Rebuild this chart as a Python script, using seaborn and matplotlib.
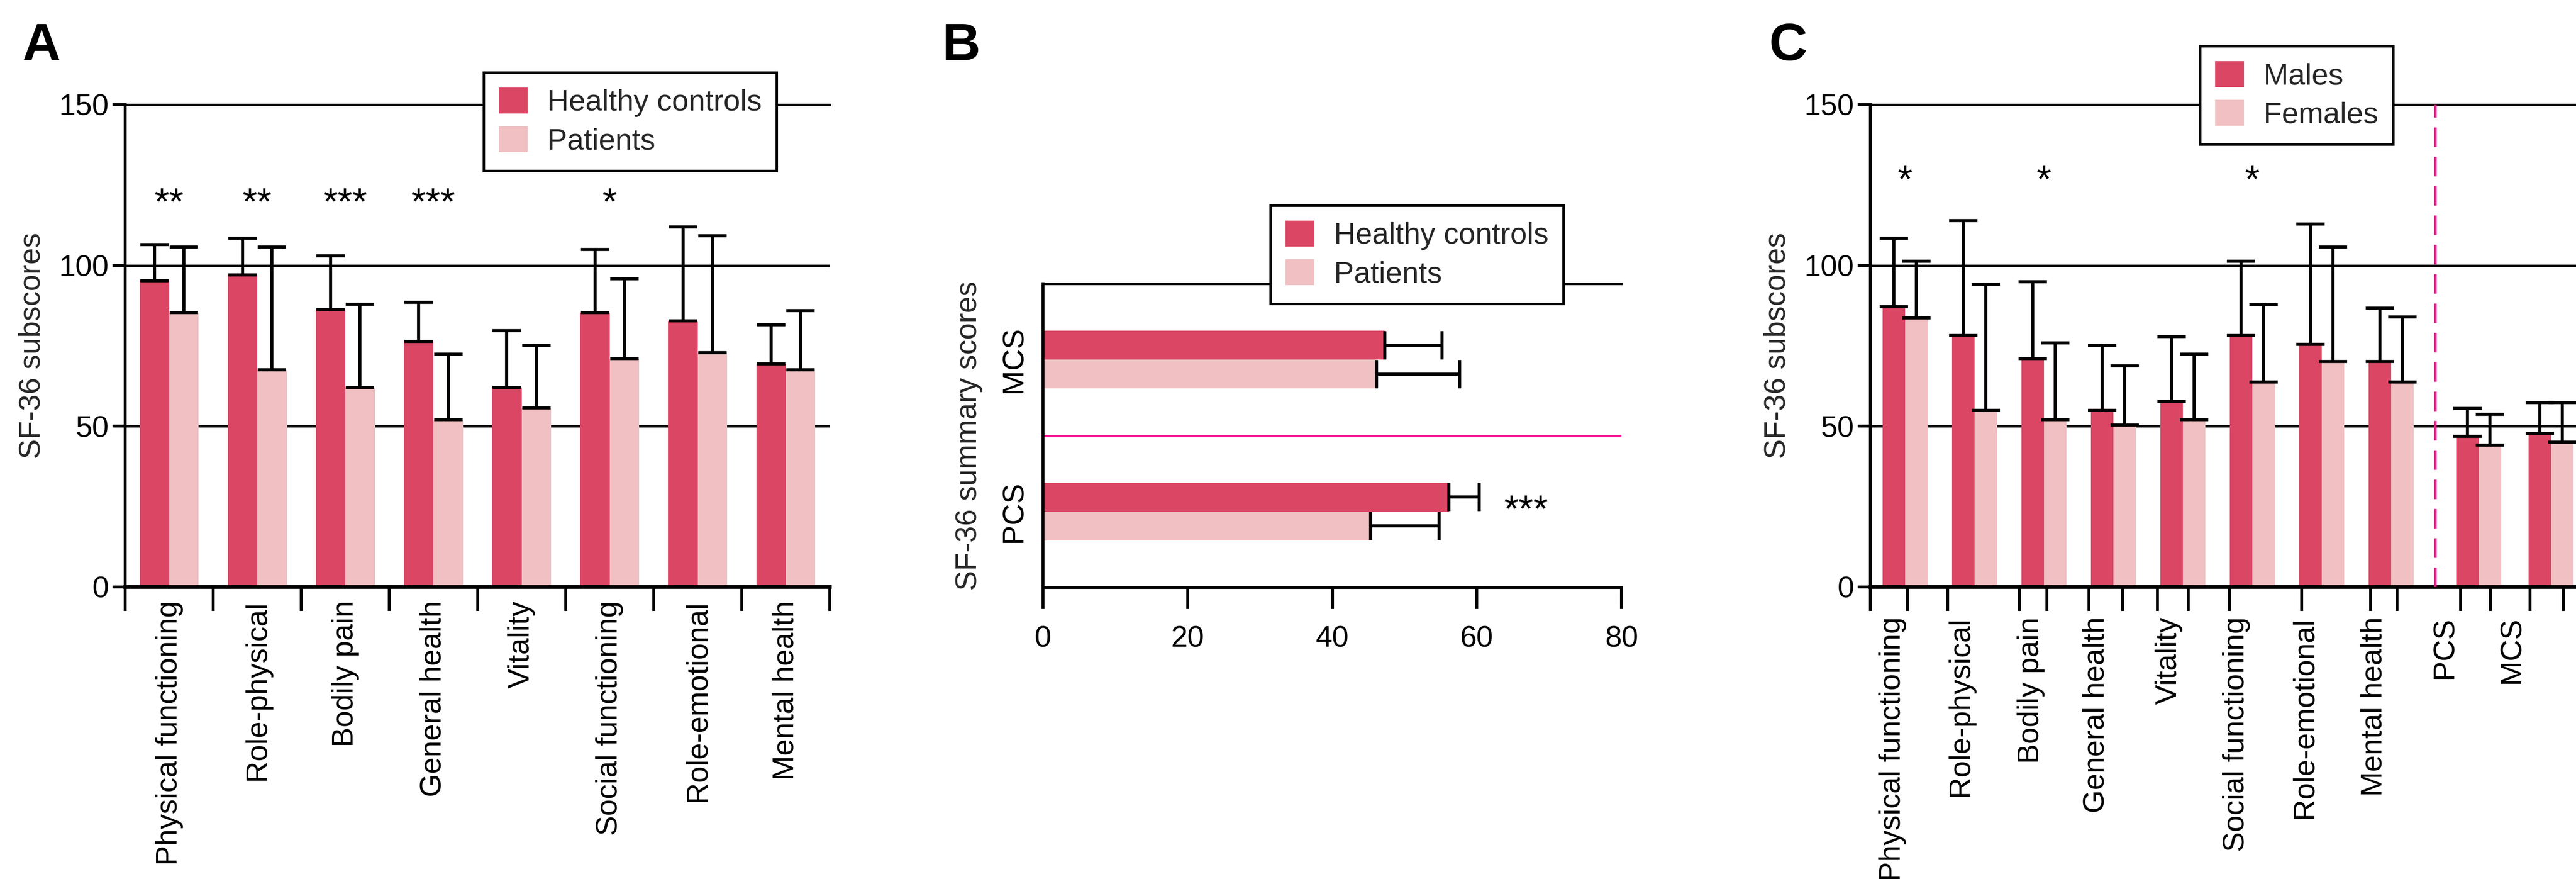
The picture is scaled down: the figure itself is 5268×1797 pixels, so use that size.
import numpy as np
import pandas as pd
import matplotlib
matplotlib.use("Agg")
import matplotlib.pyplot as plt
import seaborn as sns
from matplotlib.patches import Patch

# ---------------- data ----------------
subscales = ["Physical functioning", "Role-physical", "Bodily pain", "General health",
             "Vitality", "Social functioning", "Role-emotional", "Mental health"]
groups_ab = ["Healthy controls", "Patients"]

# Panel A: SF-36 subscores (mean, upper SD)
hc_mean = [95.2, 97.0, 86.2, 76.4, 62.0, 85.4, 82.8, 69.3]
hc_sd = [11.3, 11.5, 16.8, 12.2, 17.7, 19.6, 29.2, 12.3]
pt_mean = [85.4, 67.5, 62.0, 52.1, 55.7, 71.1, 72.8, 67.5]
pt_sd = [20.3, 38.2, 25.9, 20.3, 19.5, 24.7, 36.5, 18.4]
stars_a = ["**", "**", "***", "***", "", "*", "", ""]

# Panel B: summary scores
summary = ["MCS", "PCS"]
hc_sum_mean = [47.3, 56.1]
hc_sum_sd = [7.9, 4.2]
pt_sum_mean = [46.1, 45.3]
pt_sum_sd = [11.5, 9.5]
stars_b = ["", "***"]

# Panel C: males vs females
c_categories = subscales + ["PCS", "MCS"]
sexes = ["Males", "Females"]
male_mean = [87.1, 78.2, 71.1, 54.9, 57.6, 78.2, 75.5, 70.1, 46.8, 47.8]
male_sd = [21.4, 35.7, 23.9, 20.2, 20.3, 23.1, 37.4, 16.6, 8.7, 9.5]
female_mean = [83.6, 54.9, 52.1, 50.4, 52.1, 63.8, 70.1, 63.8, 44.1, 45.0]
female_sd = [17.7, 39.2, 23.8, 18.4, 20.3, 24.0, 35.6, 20.2, 9.6, 12.3]
stars_c = ["*", "", "*", "", "", "*", "", "", "", ""]

# ---------------- layout / style ----------------
c_positions = [0, 1, 2, 3, 4, 5, 6, 7, 8.26, 9.30]
c_label_positions = [-0.18, 0.80, 1.81, 2.75, 3.80, 4.77, 5.75, 6.75, 7.77, 8.74]
c_tick_marks = [-0.5, 0.035, 0.61, 1.65, 2.04, 2.65, 3.13, 3.63, 4.08, 4.67,
                5.71, 6.70, 7.08, 8.0, 8.43, 9.0, 9.48]
c_separator = 7.63

DARK = "#DB4664"
LIGHT = "#F0C0C2"
MAGENTA = "#F5148C"

sns.set_theme(style="white")
plt.rcParams["font.family"] = ["Liberation Sans", "DejaVu Sans"]

FS = 44
TICKFS = 44
STARFS = 56
LW = 4.3
GRIDLW = 3.6
ELW = 4.6
CAP = 21

W, H = 5268, 1797
fig = plt.figure(figsize=(W / 100, H / 100), dpi=100)


def fx(px):
    return px / W


def fy(py):
    return 1 - py / H


axA = fig.add_axes([fx(256), fy(1200), fx(1697) - fx(256), fy(214) - fy(1200)])
axB = fig.add_axes([fx(2133), fy(1201), fx(3316) - fx(2133), fy(580) - fy(1201)])
axC = fig.add_axes([fx(3825), fy(1200), 1 - fx(3825), fy(214) - fy(1200)])


def style_vertical(ax):
    ax.set_ylim(0, 150)
    ax.set_yticks([0, 50, 100, 150])
    ax.yaxis.grid(True, color="black", linewidth=GRIDLW)
    ax.set_axisbelow(True)
    ax.spines["right"].set_visible(False)
    ax.spines["top"].set_visible(True)
    ax.spines["top"].set_linewidth(GRIDLW)
    ax.spines["left"].set_linewidth(LW)
    ax.spines["bottom"].set_linewidth(5.5)
    for s in ax.spines.values():
        s.set_color("black")
    ax.tick_params(axis="y", which="major", direction="out", length=19, width=LW,
                   labelsize=TICKFS, pad=5, left=True, colors="black")
    ax.set_ylabel("SF-36 subscores", fontsize=FS)
    ax.yaxis.set_label_coords(-0.112, 0.5)
    ax.set_xlabel("")


def add_vertical_errorbars(ax, sds_list):
    for cont, sds in zip(ax.containers, sds_list):
        for p, sd in zip(cont, sds):
            x = p.get_x() + p.get_width() / 2
            y = p.get_height()
            ax.errorbar(x, y, yerr=[[0], [sd]], fmt="none", ecolor="black",
                        elinewidth=ELW, capsize=CAP, capthick=ELW, zorder=3)


def make_legend(ax, labels, anchor):
    handles = [Patch(facecolor=DARK, edgecolor="none"), Patch(facecolor=LIGHT, edgecolor="none")]
    leg = ax.legend(handles, labels, loc="upper left", bbox_to_anchor=anchor,
                    bbox_transform=fig.transFigure, borderaxespad=0, fontsize=FS,
                    handlelength=0.97, handleheight=0.97, handletextpad=0.65,
                    labelspacing=0.3, borderpad=0.5, frameon=True, fancybox=False,
                    framealpha=1, edgecolor="black")
    leg.get_frame().set_linewidth(GRIDLW)
    leg.set_zorder(10)
    return leg


# ---------------- Panel A ----------------
df_a = pd.DataFrame({
    "category": subscales * 2,
    "group": [groups_ab[0]] * len(subscales) + [groups_ab[1]] * len(subscales),
    "score": hc_mean + pt_mean,
})
sns.barplot(data=df_a, x="category", y="score", hue="group", order=subscales,
            hue_order=groups_ab, palette={groups_ab[0]: DARK, groups_ab[1]: LIGHT},
            errorbar=None, width=0.67, saturation=1, linewidth=0, legend=False, ax=axA)
add_vertical_errorbars(axA, [hc_sd, pt_sd])
style_vertical(axA)
axA.set_xlim(-0.5, 7.5)
axA.set_xticks(range(len(subscales)))
axA.set_xticklabels(subscales, rotation=90, fontsize=FS)
axA.set_xticks(np.arange(-0.5, len(subscales), 1.0), minor=True)
axA.tick_params(axis="x", which="major", length=0, pad=20, colors="black")
axA.tick_params(axis="x", which="minor", direction="out", length=35, width=LW,
                bottom=True, colors="black")
for i, s in enumerate(stars_a):
    if s:
        axA.text(i, 119, s, ha="center", va="center", fontsize=STARFS, color="black")
make_legend(axA, groups_ab, (fx(989), fy(148)))

# ---------------- Panel B ----------------
df_b = pd.DataFrame({
    "measure": summary * 2,
    "group": [groups_ab[0]] * 2 + [groups_ab[1]] * 2,
    "score": hc_sum_mean + pt_sum_mean,
})
sns.barplot(data=df_b, y="measure", x="score", hue="group", order=summary,
            hue_order=groups_ab, palette={groups_ab[0]: DARK, groups_ab[1]: LIGHT},
            orient="h", errorbar=None, width=0.38, saturation=1, linewidth=0,
            legend=False, ax=axB)
for cont, sds in zip(axB.containers, [hc_sum_sd, pt_sum_sd]):
    for p, sd in zip(cont, sds):
        y = p.get_y() + p.get_height() / 2
        x = p.get_width()
        axB.errorbar(x, y, xerr=[[0], [sd]], fmt="none", ecolor="black",
                     elinewidth=ELW, capsize=CAP, capthick=ELW, zorder=3)
axB.set_xlim(0, 80)
axB.set_ylim(1.5, -0.5)
axB.set_xticks([0, 20, 40, 60, 80])
axB.tick_params(axis="x", which="major", direction="out", length=32, width=LW,
                labelsize=TICKFS, pad=24, bottom=True, colors="black")
axB.tick_params(axis="y", length=0, pad=22, labelsize=FS, colors="black")
for lab in axB.get_yticklabels():
    lab.set_rotation(90)
    lab.set_va("center")
axB.axhline(0.5, color=MAGENTA, linewidth=GRIDLW, zorder=2)
axB.spines["right"].set_visible(False)
for s in ["top", "left", "bottom"]:
    axB.spines[s].set_linewidth(LW)
    axB.spines[s].set_color("black")
axB.spines["top"].set_linewidth(GRIDLW)
axB.set_xlabel("")
axB.set_ylabel("SF-36 summary scores", fontsize=FS)
axB.yaxis.set_label_coords(-0.104, 0.5)
for i, s in enumerate(stars_b):
    if s:
        axB.text(66.8, i, s, ha="center", va="center", fontsize=STARFS, color="black")
make_legend(axB, groups_ab, (fx(2598), fy(420)))

# ---------------- Panel C ----------------
df_c = pd.DataFrame({
    "pos": c_positions * 2,
    "sex": [sexes[0]] * len(c_categories) + [sexes[1]] * len(c_categories),
    "score": male_mean + female_mean,
})
sns.barplot(data=df_c, x="pos", y="score", hue="sex", hue_order=sexes,
            palette={sexes[0]: DARK, sexes[1]: LIGHT}, native_scale=True,
            errorbar=None, width=0.65, saturation=1, linewidth=0, legend=False, ax=axC)
add_vertical_errorbars(axC, [male_sd, female_sd])
style_vertical(axC)
axC.set_xlim(-0.5, 9.66)
axC.set_xticks(c_label_positions)
axC.set_xticklabels(c_categories, rotation=90, fontsize=FS)
axC.set_xticks(c_tick_marks, minor=True)
axC.tick_params(axis="x", which="major", length=0, pad=44, colors="black")
axC.tick_params(axis="x", which="minor", direction="out", length=35, width=LW,
                bottom=True, colors="black")
axC.axvline(c_separator, ymin=0, ymax=1, color=MAGENTA, linewidth=GRIDLW,
            linestyle=(0, (8, 4)), zorder=4)
for x, s in zip(c_positions, stars_c):
    if s:
        axC.text(x, 126, s, ha="center", va="center", fontsize=STARFS, color="black")
make_legend(axC, sexes, (fx(4499), fy(94)))

# ---------------- panel letters ----------------
for px, letter in [(45, "A"), (1927, "B"), (3618, "C")]:
    fig.text(fx(px), fy(45), letter, fontsize=78, fontweight="bold", ha="left", va="top",
             color="black")

fig.savefig("out.png", dpi=100)
